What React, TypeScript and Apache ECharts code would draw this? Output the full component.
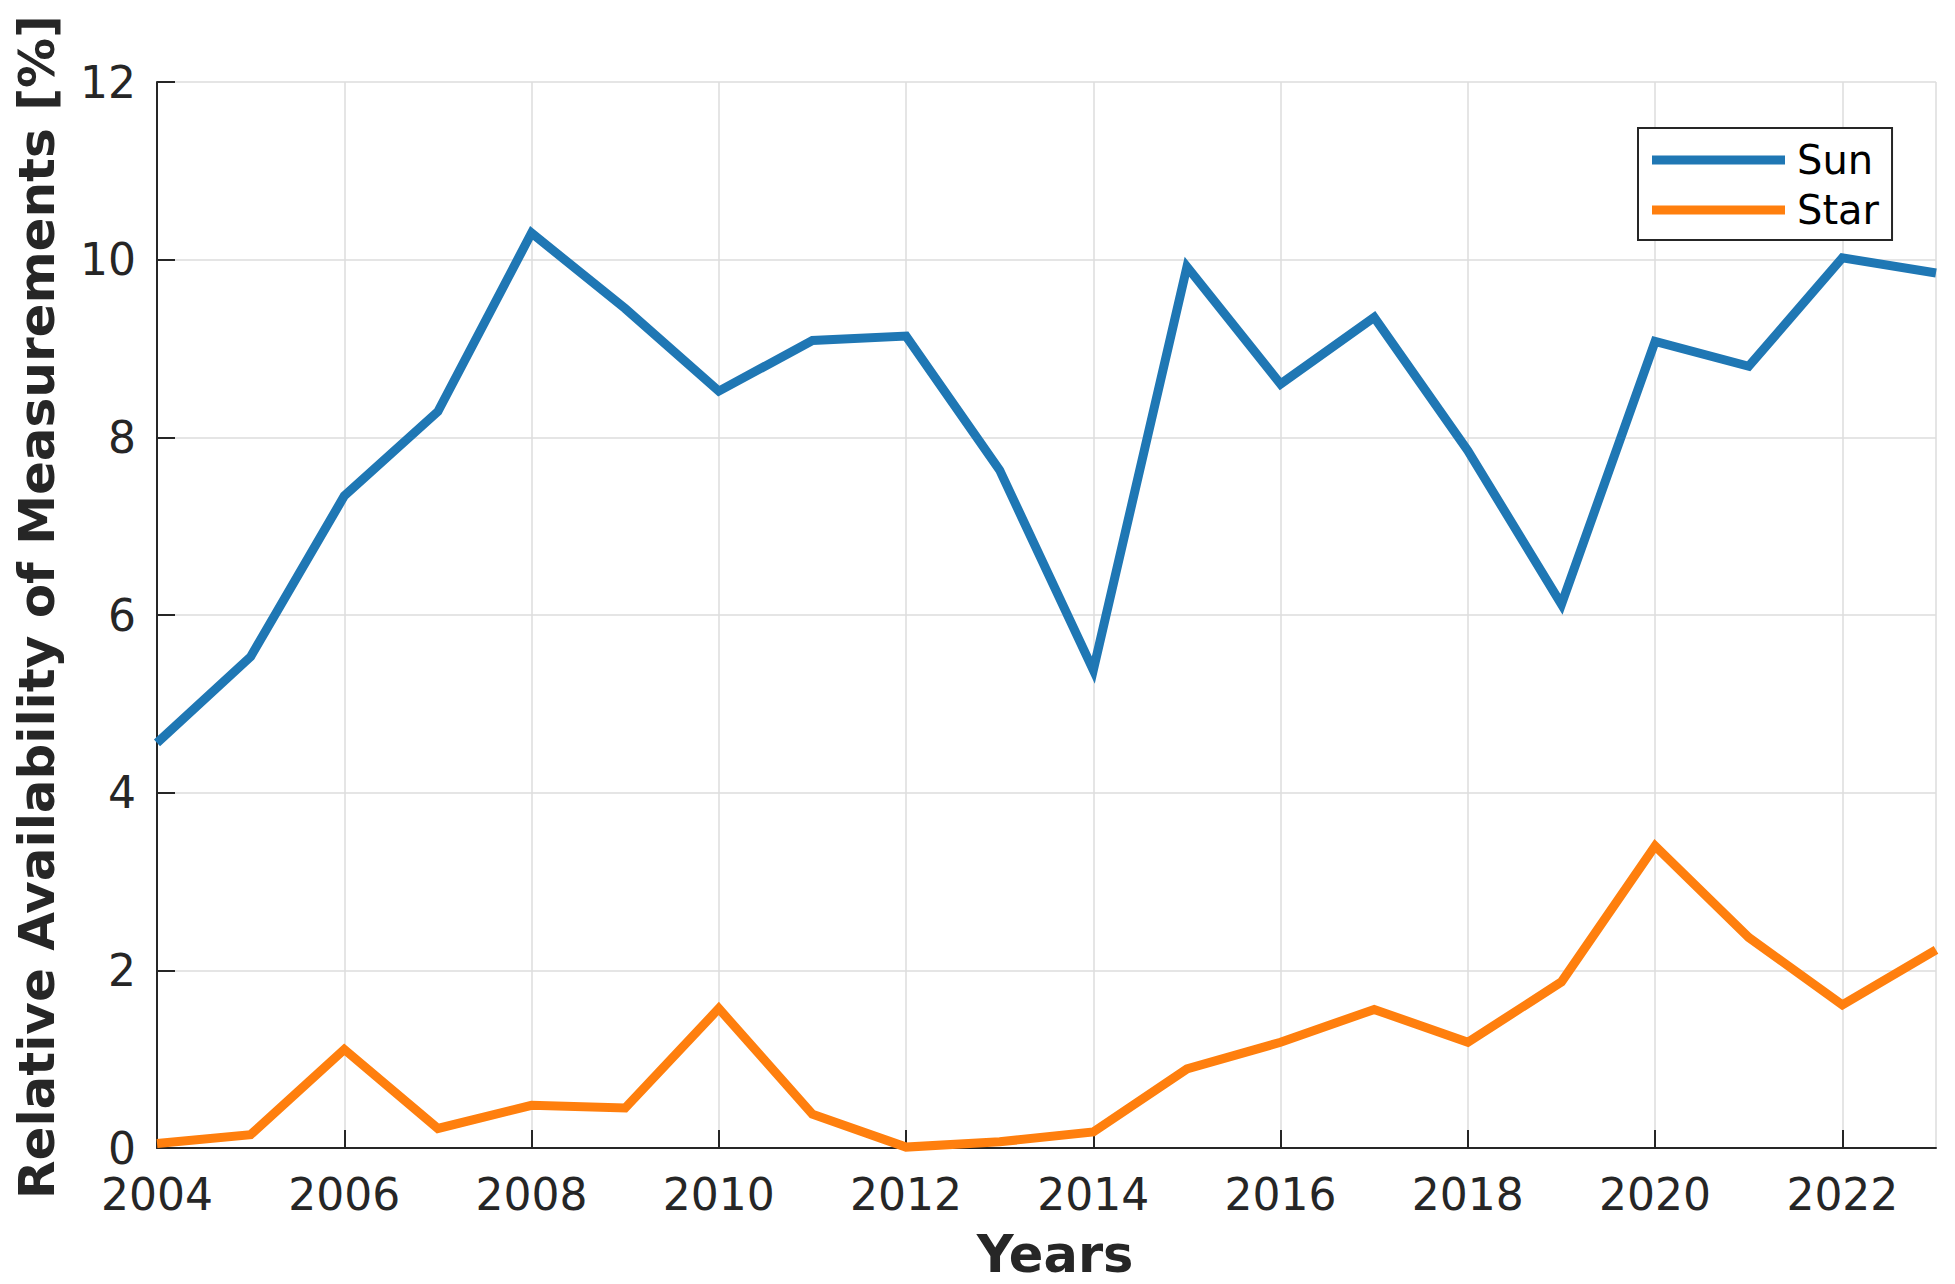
import React, { useEffect, useRef } from "react";
import * as echarts from "echarts";

const years = [2004, 2005, 2006, 2007, 2008, 2009, 2010, 2011, 2012, 2013, 2014, 2015, 2016, 2017, 2018, 2019, 2020, 2021, 2022, 2023];
const sunValues = [4.56, 5.53, 7.34, 8.29, 10.3, 9.45, 8.52, 9.09, 9.14, 7.63, 5.38, 9.92, 8.6, 9.35, 7.85, 6.12, 9.08, 8.8, 10.02, 9.85];
const starValues = [0.05, 0.15, 1.11, 0.22, 0.48, 0.45, 1.57, 0.38, 0.01, 0.07, 0.18, 0.89, 1.19, 1.56, 1.19, 1.87, 3.4, 2.37, 1.61, 2.23];
const seriesNames = ["Sun", "Star"];
const xTitle = "Years";
const yTitle = "Relative Availability of Measurements [%]";

const FONT = "DejaVu Sans";
const AXIS_COLOR = "#262626";

export default function App() {
  const ref = useRef<HTMLDivElement>(null);
  useEffect(() => {
    if (!ref.current) return;
    const chart = echarts.init(ref.current, null, { renderer: "svg" });
    const toPairs = (vals: number[]) => years.map((y, i) => [y, vals[i]]);
    chart.setOption({
      animation: false,
      backgroundColor: "#ffffff",
      textStyle: { fontFamily: FONT },
      grid: { left: 157, right: 19, top: 82, bottom: 136, containLabel: false, outerBoundsMode: "none" },
      legend: {
        orient: "vertical",
        left: 1638,
        top: 128,
        data: seriesNames,
        icon: "rect",
        itemWidth: 133,
        itemHeight: 9,
        itemGap: 10,
        padding: [12, 13, 10, 14],
        borderColor: AXIS_COLOR,
        borderWidth: 2,
        backgroundColor: "#ffffff",
        textStyle: { fontFamily: FONT, fontSize: 40, color: "#000000", lineHeight: 40, padding: [0, 0, 0, 7] },
      },
      xAxis: {
        type: "value",
        min: 2004,
        max: 2023,
        interval: 2,
        name: xTitle,
        nameLocation: "middle",
        nameGap: 81,
        nameTextStyle: { fontFamily: FONT, fontSize: 51, fontWeight: "bold", color: AXIS_COLOR, padding: [0, 0, 0, 17] },
        axisLine: { show: true, lineStyle: { color: AXIS_COLOR, width: 2 } },
        axisTick: { show: true, inside: true, length: 18, lineStyle: { color: AXIS_COLOR, width: 2 } },
        axisLabel: {
          fontFamily: FONT,
          fontSize: 44,
          color: AXIS_COLOR,
          margin: 24,
          showMaxLabel: false,
          formatter: (v: number) => String(v),
        },
        splitLine: { show: true, lineStyle: { color: "#dcdcdc", width: 1.5 } },
      },
      yAxis: {
        type: "value",
        min: 0,
        max: 12,
        interval: 2,
        name: yTitle,
        nameLocation: "middle",
        nameGap: 95,
        nameTextStyle: { fontFamily: FONT, fontSize: 50, fontWeight: "bold", color: AXIS_COLOR, padding: [0, 0, 0, 16] },
        axisLine: { show: true, lineStyle: { color: AXIS_COLOR, width: 2 } },
        axisTick: { show: true, inside: true, length: 18, lineStyle: { color: AXIS_COLOR, width: 2 } },
        axisLabel: { fontFamily: FONT, fontSize: 44, color: AXIS_COLOR, margin: 21 },
        splitLine: { show: true, lineStyle: { color: "#dcdcdc", width: 1.5 } },
      },
      series: [
        {
          name: seriesNames[0],
          type: "line",
          data: toPairs(sunValues),
          showSymbol: false,
          symbol: "none",
          lineStyle: { color: "#1f77b4", width: 9, join: "miter" },
          itemStyle: { color: "#1f77b4" },
        },
        {
          name: seriesNames[1],
          type: "line",
          data: toPairs(starValues),
          showSymbol: false,
          symbol: "none",
          lineStyle: { color: "#ff7f0e", width: 9, join: "miter" },
          itemStyle: { color: "#ff7f0e" },
        },
      ],
    });
    return () => chart.dispose();
  }, []);
  return (
    <div
      ref={ref}
      style={{ position: "fixed", left: 0, top: 0, width: 1955, height: 1284, background: "#fff" }}
    />
  );
}
